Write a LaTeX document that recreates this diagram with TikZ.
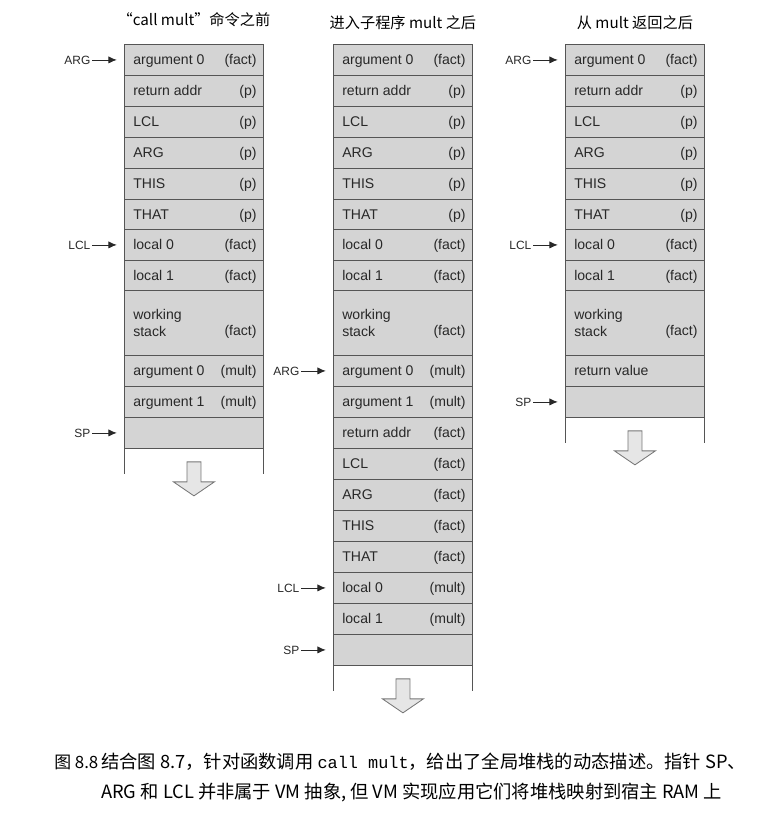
\documentclass[tikz,border=0pt]{standalone}
\usepackage{fontspec}
\setmainfont{Liberation Sans}
\setmonofont{Liberation Mono}
\newfontfamily\cjk{Noto Sans CJK SC}
\usetikzlibrary{positioning}
\usetikzlibrary{arrows.meta}

\definecolor{cellfill}{RGB}{212,212,212}
\definecolor{cellline}{RGB}{85,85,85}
\definecolor{celltext}{RGB}{40,40,40}
\definecolor{holfill}{RGB}{230,230,230}

\tikzset{
  cell/.style={draw=cellline, fill=cellfill, line width=0.6pt, minimum width=34.75mm, minimum height=7.75mm, inner sep=0pt, anchor=north west},
  wcell/.style={cell, minimum height=16.25mm},
  ltxt/.style={anchor=west, inner sep=0pt, text=celltext, font=\fontsize{10}{11}\selectfont, text height=1.6ex, text depth=.45ex},
  rtxt/.style={ltxt, anchor=east},
  ptr label/.style={inner sep=1pt, text=celltext, font=\fontsize{8.5}{10}\selectfont},
  ptr/.style={-{Latex[length=2.1mm, width=1.8mm]}, line width=0.6pt, draw=celltext, shorten >=1.8mm},
  heading/.style={font=\cjk\fontsize{10.8}{13}\selectfont, text=black},
  hollow/.style={draw=cellline!80, fill=holfill, line width=0.6pt},
  tail/.style={draw=cellline, line width=0.6pt},
  caption/.style={anchor=base west, inner sep=0pt, font=\cjk\fontsize{13}{15}\selectfont, text=black},
}
\newcommand{\tikzDownArrow}[1]{\draw[hollow] #1 ++(-7,13) -- ++(14,0) -- ++(0,20) -- ++(13.5,0) -- ++(-20.5,14) -- ++(-20.5,-14) -- ++(13.5,0) -- cycle}

\begin{document}
\begin{tikzpicture}[x=0.25mm, y=-0.25mm]
  \useasboundingbox (0,0) rectangle (780,820);

  % frame of fact, the same in all three stacks
  \foreach \s/\x in {a/124, b/333, c/565}{
    \foreach \n/\y/\l/\r in {1/44/argument 0/(fact), 2/75/return addr/(p), 3/106/LCL/(p), 4/137/ARG/(p),
        5/168/THIS/(p), 6/199/THAT/(p), 7/229/local 0/(fact), 8/260/local 1/(fact)}{
      \node[cell] (\s\n) at (\x,\y) {};
      \node[ltxt] (\s\n-l) at ([xshift=2.25mm]\s\n.west) {\l};
      \node[rtxt] (\s\n-r) at ([xshift=-1.75mm]\s\n.east) {\r};
    }
    \node[wcell] (\s9) at (\x,290) {};
    \node[anchor=west, inner sep=0pt, align=left, text=celltext, font=\fontsize{10}{11.5}\selectfont]
      (\s9-l) at ([xshift=2.25mm]\s9.west) {working\\stack};
    \node[rtxt] (\s9-r) at ([xshift=-1.75mm, yshift=-2mm]\s9.east) {(fact)};
  }

  % before "call mult"
  \foreach \n/\y/\l/\r in {10/355/argument 0/(mult), 11/386/argument 1/(mult)}{
    \node[cell] (a\n) at (124,\y) {};
    \node[ltxt] (a\n-l) at ([xshift=2.25mm]a\n.west) {\l};
    \node[rtxt] (a\n-r) at ([xshift=-1.75mm]a\n.east) {\r};
  }
  \node[cell] (a12) at (124,417) {};
  \draw[tail] (a12.south west) -- ++(0,25);
  \draw[tail] (a12.south east) -- ++(0,25);
  \tikzDownArrow{(a12.south)};
  \node[heading, above=3mm of a1] (a-title) {“call mult”命令之前};
  \node[ptr label, left=8mm of a1] (a-arg) {ARG};
  \node[ptr label, left=8mm of a7] (a-lcl) {LCL};
  \node[ptr label, left=8mm of a12] (a-sp) {SP};
  \draw[ptr] (a-arg) -- (a1);
  \draw[ptr] (a-lcl) -- (a7);
  \draw[ptr] (a-sp) -- (a12);

  % after entering mult
  \foreach \n/\y/\l/\r in {10/355/argument 0/(mult), 11/386/argument 1/(mult), 12/417/return addr/(fact),
      13/448/LCL/(fact), 14/479/ARG/(fact), 15/510/THIS/(fact), 16/541/THAT/(fact),
      17/572/local 0/(mult), 18/603/local 1/(mult)}{
    \node[cell] (b\n) at (333,\y) {};
    \node[ltxt] (b\n-l) at ([xshift=2.25mm]b\n.west) {\l};
    \node[rtxt] (b\n-r) at ([xshift=-1.75mm]b\n.east) {\r};
  }
  \node[cell] (b19) at (333,634) {};
  \draw[tail] (b19.south west) -- ++(0,25);
  \draw[tail] (b19.south east) -- ++(0,25);
  \tikzDownArrow{(b19.south)};
  \node[heading, above=2.3mm of b1] (b-title) {进入子程序 mult 之后};
  \node[ptr label, left=8mm of b10] (b-arg) {ARG};
  \node[ptr label, left=8mm of b17] (b-lcl) {LCL};
  \node[ptr label, left=8mm of b19] (b-sp) {SP};
  \draw[ptr] (b-arg) -- (b10);
  \draw[ptr] (b-lcl) -- (b17);
  \draw[ptr] (b-sp) -- (b19);

  % after return from mult
  \node[cell] (c10) at (565,355) {};
  \node[ltxt] (c10-l) at ([xshift=2.25mm]c10.west) {return value};
  \node[cell] (c11) at (565,386) {};
  \draw[tail] (c11.south west) -- ++(0,25);
  \draw[tail] (c11.south east) -- ++(0,25);
  \tikzDownArrow{(c11.south)};
  \node[heading, above=2.3mm of c1] (c-title) {从 mult 返回之后};
  \node[ptr label, left=8mm of c1] (c-arg) {ARG};
  \node[ptr label, left=8mm of c7] (c-lcl) {LCL};
  \node[ptr label, left=8mm of c11] (c-sp) {SP};
  \draw[ptr] (c-arg) -- (c1);
  \draw[ptr] (c-lcl) -- (c7);
  \draw[ptr] (c-sp) -- (c11);

  % caption
  \node[caption, font=\cjk\fontsize{12}{15}\selectfont] (cap-no) at (54,768) {图 8.8};
  \node[caption] (cap-1) at (101,768) {结合图 8.7，针对函数调用 {\ttfamily\fontsize{12}{15}\selectfont call mult}，给出了全局堆栈的动态描述。指针 SP、};
  \node[caption] (cap-2) at (101,798) {ARG 和 LCL 并非属于 VM 抽象, 但 VM 实现应用它们将堆栈映射到宿主 RAM 上};
\end{tikzpicture}
\end{document}
